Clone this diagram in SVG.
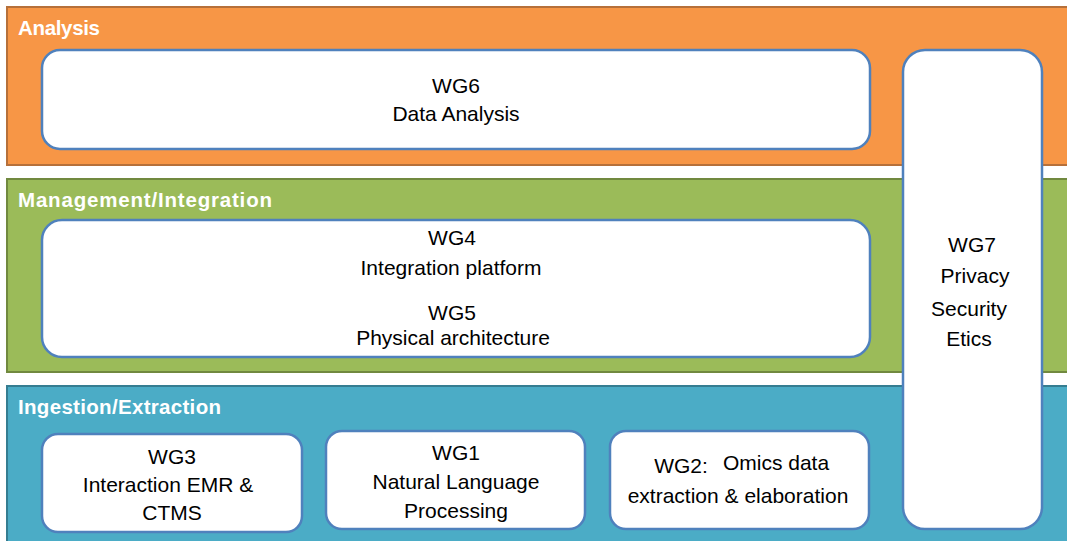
<svg xmlns="http://www.w3.org/2000/svg" width="1067" height="541" viewBox="0 0 1067 541">
<style>
.band-title{font-family:"Liberation Sans",Arial,sans-serif;font-weight:bold;font-size:20.5px;fill:#ffffff}
.box{fill:#ffffff;stroke:#4F81BD;stroke-width:2.5}
.t{font-family:"Liberation Sans",Arial,sans-serif;font-size:21px;fill:#000000;text-anchor:middle}
</style>
<rect width="1067" height="541" fill="#ffffff"/>
<g id="band-analysis">
<rect x="7" y="7" width="1075" height="158" fill="#F79646" stroke="#B6703A" stroke-width="2"/>
<text class="band-title" x="18" y="35" textLength="82">Analysis</text>
</g>
<g id="band-management">
<rect x="7" y="179" width="1075" height="193" fill="#9BBB59" stroke="#71893F" stroke-width="2"/>
<text class="band-title" x="18" y="207" textLength="254">Management/Integration</text>
</g>
<g id="band-ingestion">
<rect x="7" y="386" width="1075" height="170" fill="#4BACC6" stroke="#357D91" stroke-width="2"/>
<text class="band-title" x="18" y="414" textLength="203">Ingestion/Extraction</text>
</g>
<g id="wg6">
<rect class="box" x="42" y="50" width="828" height="99" rx="18"/>
<text class="t" x="456" y="93">WG6</text>
<text class="t" x="456" y="121">Data Analysis</text>
</g>
<g id="wg45">
<rect class="box" x="42" y="220" width="828" height="137" rx="20"/>
<text class="t" x="452" y="245">WG4</text>
<text class="t" x="451" y="275">Integration platform</text>
<text class="t" x="452" y="320">WG5</text>
<text class="t" x="453" y="345">Physical architecture</text>
</g>
<g id="wg7">
<rect class="box" x="903" y="50" width="139" height="479" rx="22"/>
<text class="t" x="972" y="252">WG7</text>
<text class="t" x="975" y="283">Privacy</text>
<text class="t" x="969" y="316">Security</text>
<text class="t" x="969" y="346">Etics</text>
</g>
<g id="wg3">
<rect class="box" x="42" y="434" width="260" height="98" rx="16"/>
<text class="t" x="172" y="464">WG3</text>
<text class="t" x="168" y="492">Interaction EMR &amp;</text>
<text class="t" x="172" y="520">CTMS</text>
</g>
<g id="wg1">
<rect class="box" x="326" y="431" width="259" height="98" rx="16"/>
<text class="t" x="456" y="460">WG1</text>
<text class="t" x="456" y="489">Natural Language</text>
<text class="t" x="456" y="518">Processing</text>
</g>
<g id="wg2">
<rect class="box" x="610" y="431" width="259" height="98" rx="16"/>
<text class="t" x="681" y="473">WG2:</text>
<text class="t" x="776" y="470">Omics data</text>
<text class="t" x="738" y="503">extraction &amp; elaboration</text>
</g>
<g id="connectors"/>
</svg>
